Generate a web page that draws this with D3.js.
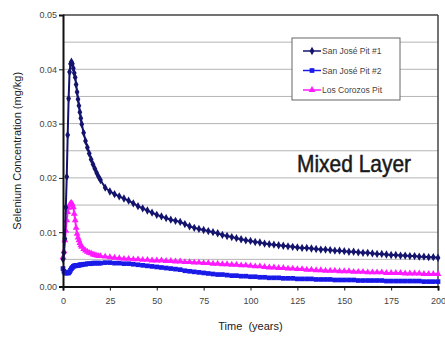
<!DOCTYPE html>
<html>
<head>
<meta charset="utf-8">
<script src="https://cdn.jsdelivr.net/npm/d3@7"></script>
<style>
body { margin: 0; background: #fff; }
text { font-family: Arial, "Liberation Sans", sans-serif; }
</style>
</head>
<body>
<div id="chart"></div>
<script>
// time axis (years)
var years = [0,0.5,1,1.5,2,2.5,3,3.5,4,4.5,5,5.5,6,6.5,7,7.5,8,8.5,9,9.5,10,
  11,12,13,14,15,16,17,18,19,20,
  22.5,25,27.5,30,32.5,35,37.5,40,42.5,45,47.5,50,52.5,55,57.5,60,62.5,65,67.5,70,
  72.5,75,77.5,80,82.5,85,87.5,90,92.5,95,97.5,100,102.5,105,107.5,110,112.5,115,117.5,120,
  122.5,125,127.5,130,132.5,135,137.5,140,142.5,145,147.5,150,152.5,155,157.5,160,
  162.5,165,167.5,170,172.5,175,177.5,180,182.5,185,187.5,190,192.5,195,197.5,200];

var sanJose1 = [0.0050,0.0062,0.0088,0.0146,0.0202,0.0279,0.0346,0.0395,0.0410,0.0414,0.0410,0.0402,0.0393,0.0385,0.0372,0.0358,0.0345,0.0333,0.0321,0.0310,0.0299,
  0.0283,0.0268,0.0256,0.0245,0.0234,0.0225,0.0217,0.0209,0.0202,0.0196,
  0.0182,0.0175,0.0170,0.0166,0.0162,0.0158,0.0153,0.0148,0.0144,0.0140,0.0136,0.0132,0.0129,0.0126,0.0123,0.0121,0.0119,0.0115,0.0111,0.0108,
  0.0106,0.0104,0.0102,0.0100,0.0098,0.0095,0.0093,0.0091,0.0089,0.0087,0.0085,0.0084,0.0082,0.0081,0.0079,0.0078,0.0077,0.0076,0.0075,0.0074,
  0.0073,0.0072,0.0071,0.0071,0.0070,0.0069,0.0068,0.0068,0.0067,0.0066,0.0066,0.0065,0.0064,0.0064,0.0063,0.0062,
  0.0062,0.0061,0.0060,0.0060,0.0059,0.0058,0.0058,0.0057,0.0057,0.0056,0.0056,0.0055,0.0055,0.0054,0.0054,0.0053];

var sanJose2 = [0.0033,0.0028,0.0025,0.0025,0.0025,0.0025,0.0025,0.0027,0.0030,0.0033,0.0035,0.0037,0.0038,0.0038,0.0039,0.0039,0.0039,0.0039,0.0040,0.0040,0.0040,
  0.0041,0.0041,0.0042,0.0042,0.0042,0.0043,0.0043,0.0043,0.0043,0.0043,
  0.0044,0.0044,0.0043,0.0043,0.0042,0.0042,0.0041,0.0040,0.0039,0.0038,0.0037,0.0036,0.0035,0.0034,0.0033,0.0032,0.0031,0.0029,0.0028,0.0027,
  0.0026,0.0025,0.0024,0.0023,0.0022,0.0022,0.0021,0.0020,0.0020,0.0019,0.0019,0.0018,0.0018,0.0017,0.0017,0.0016,0.0016,0.0016,0.0015,0.0015,
  0.0015,0.0014,0.0014,0.0014,0.0014,0.0013,0.0013,0.0013,0.0013,0.0012,0.0012,0.0012,0.0012,0.0012,0.0011,0.0011,
  0.0011,0.0011,0.0011,0.0011,0.0010,0.0010,0.0010,0.0010,0.0010,0.0010,0.0010,0.0010,0.0009,0.0009,0.0009,0.0009];

var losCorozos = [0.0054,0.0065,0.0085,0.0103,0.0122,0.0137,0.0145,0.0150,0.0153,0.0154,0.0151,0.0146,0.0134,0.0122,0.0108,0.0097,0.0090,0.0085,0.0080,0.0076,0.0073,
  0.0069,0.0066,0.0064,0.0062,0.0061,0.0059,0.0058,0.0057,0.0056,0.0056,
  0.0055,0.0054,0.0053,0.0052,0.0051,0.0051,0.0050,0.0050,0.0049,0.0049,0.0048,0.0048,0.0048,0.0047,0.0047,0.0046,0.0046,0.0045,0.0045,0.0044,
  0.0044,0.0043,0.0043,0.0042,0.0042,0.0041,0.0041,0.0040,0.0040,0.0039,0.0039,0.0038,0.0037,0.0037,0.0036,0.0035,0.0035,0.0034,0.0034,0.0033,
  0.0033,0.0032,0.0032,0.0031,0.0031,0.0030,0.0030,0.0029,0.0029,0.0029,0.0028,0.0028,0.0028,0.0027,0.0027,0.0027,
  0.0026,0.0026,0.0026,0.0026,0.0025,0.0025,0.0025,0.0025,0.0024,0.0024,0.0024,0.0024,0.0023,0.0023,0.0023,0.0023];

var seriesNames = ["San José Pit #1", "San José Pit #2", "Los Corozos Pit"];
var seriesColors = ["#14146e", "#1a1ae8", "#ff1aff"];
var xTicks = [0,25,50,75,100,125,150,175,200];
var yTicks = [0,0.01,0.02,0.03,0.04,0.05];
var yGrid = [0.005,0.01,0.015,0.02,0.025,0.03,0.035,0.04,0.045];

var width = 445, height = 337;
var plotLeft = 63, plotRight = 438, plotTop = 15, plotBottom = 286.5;

var svg = d3.select("#chart").append("svg")
  .attr("width", width)
  .attr("height", height);

var x = d3.scaleLinear().domain([0, 200]).range([plotLeft, plotRight]);
var y = d3.scaleLinear().domain([0, 0.05]).range([plotBottom, plotTop]);

// grid lines
svg.append("g").selectAll("line")
  .data(yGrid)
  .enter().append("line")
  .attr("x1", plotLeft).attr("x2", plotRight)
  .attr("y1", function(d){ return y(d); })
  .attr("y2", function(d){ return y(d); })
  .attr("stroke", "#b4b4b4")
  .attr("stroke-width", 1);

// frame top / right
svg.append("line").attr("x1", plotLeft).attr("x2", plotRight).attr("y1", plotTop).attr("y2", plotTop)
  .attr("stroke", "#444").attr("stroke-width", 1.5);
svg.append("line").attr("x1", plotRight).attr("x2", plotRight).attr("y1", plotTop).attr("y2", plotBottom)
  .attr("stroke", "#444").attr("stroke-width", 1.5);

// series
var allSeries = [sanJose1, sanJose2, losCorozos];
var line = d3.line()
  .x(function(d){ return x(d[0]); })
  .y(function(d){ return y(d[1]); });

var symbols = [d3.symbolDiamond, d3.symbolSquare, d3.symbolTriangle];
var symSize = [20, 22, 20];
var strokeW = [2, 3, 2];

// draw in the order pit2, corozos, pit1 so the navy sits on top
[1, 2, 0].forEach(function(i){
  var pts = years.map(function(t, k){ return [t, allSeries[i][k]]; });
  var g = svg.append("g");
  g.append("path")
    .datum(pts)
    .attr("d", line)
    .attr("fill", "none")
    .attr("stroke", seriesColors[i])
    .attr("stroke-width", strokeW[i]);
  g.selectAll("path.m")
    .data(pts)
    .enter().append("path")
    .attr("class", "m")
    .attr("transform", function(d){ return "translate(" + x(d[0]) + "," + y(d[1]) + ")"; })
    .attr("d", d3.symbol().type(symbols[i]).size(symSize[i]))
    .attr("fill", seriesColors[i]);
});

// axes
var xAxis = d3.axisBottom(x).tickValues(xTicks).tickSize(4).tickFormat(d3.format("d"));
var gx = svg.append("g").attr("transform", "translate(0," + plotBottom + ")").call(xAxis);
gx.select(".domain").attr("stroke", "#111").attr("stroke-width", 2);
gx.selectAll(".tick line").attr("stroke", "#111");
gx.selectAll("text").attr("font-size", 9).attr("fill", "#444").attr("dy", "1.2em");

var yAxis = d3.axisLeft(y).tickValues(yTicks).tickSize(4).tickFormat(d3.format(".2f"));
var gy = svg.append("g").attr("transform", "translate(" + plotLeft + ",0)").call(yAxis);
gy.select(".domain").attr("stroke", "#111").attr("stroke-width", 2);
gy.selectAll(".tick line").attr("stroke", "#111");
gy.selectAll("text").attr("font-size", 9).attr("fill", "#444").attr("x", -6);

// axis titles
svg.append("text")
  .attr("transform", "translate(21," + ((plotTop + plotBottom) / 2) + ") rotate(-90)")
  .attr("text-anchor", "middle")
  .attr("font-size", 11)
  .attr("fill", "#222")
  .text("Selenium Concentration (mg/kg)");

svg.append("text")
  .attr("x", (plotLeft + plotRight) / 2)
  .attr("y", 330)
  .attr("text-anchor", "middle")
  .attr("font-size", 11)
  .attr("fill", "#222")
  .attr("xml:space", "preserve")
  .text("Time  (years)");

// annotation
svg.append("text")
  .attr("x", 297)
  .attr("y", 172)
  .attr("font-size", 24)
  .attr("fill", "#1a1a1a")
  .attr("stroke", "#1a1a1a")
  .attr("stroke-width", 0.5)
  .attr("textLength", 114)
  .attr("lengthAdjust", "spacingAndGlyphs")
  .text("Mixed Layer");

// legend
var lg = svg.append("g");
lg.append("rect")
  .attr("x", 292).attr("y", 38)
  .attr("width", 108).attr("height", 62)
  .attr("fill", "#fff")
  .attr("stroke", "#666")
  .attr("stroke-width", 1);
var legendY = d3.scalePoint().domain(seriesNames).range([51, 90]);
seriesNames.forEach(function(name, i){
  var ly = legendY(name);
  lg.append("line")
    .attr("x1", 303).attr("x2", 321)
    .attr("y1", ly).attr("y2", ly)
    .attr("stroke", seriesColors[i]).attr("stroke-width", 1.5);
  lg.append("path")
    .attr("transform", "translate(312," + ly + ")")
    .attr("d", d3.symbol().type(symbols[i]).size(symSize[i]))
    .attr("fill", seriesColors[i]);
  lg.append("text")
    .attr("x", 322).attr("y", ly + 3)
    .attr("font-size", 8.5)
    .attr("fill", "#444")
    .text(name);
});
</script>
</body>
</html>
